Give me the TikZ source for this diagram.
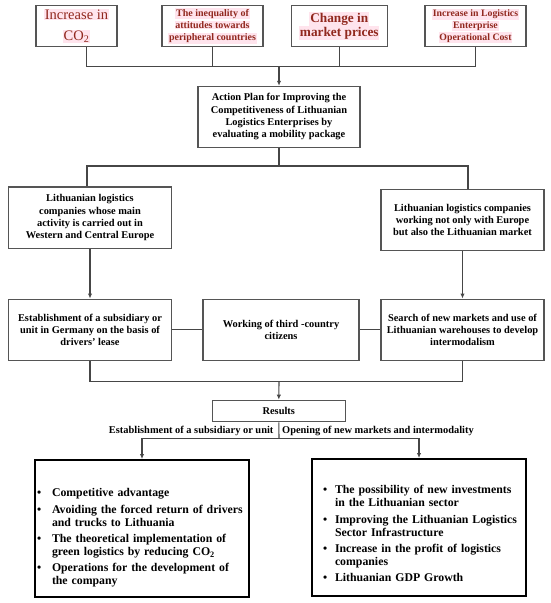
\documentclass[tikz,border=0pt]{standalone}
\usepackage{fontspec}
\setmainfont{Liberation Serif}
\usepackage{enumitem}
\usetikzlibrary{arrows.meta}
\definecolor{causered}{RGB}{145,40,30}
\definecolor{hlpink}{RGB}{255,228,237}
\definecolor{boxline}{RGB}{85,85,85}
\definecolor{wiregray}{RGB}{70,70,70}
\newcommand{\hlt}[1]{{\setlength{\fboxsep}{0.8pt}\colorbox{hlpink}{#1}}}
\setlist[itemize]{label=\textbullet, topsep=0pt, partopsep=0pt, parsep=0pt, itemsep=3.3pt}
\begin{document}
\begin{tikzpicture}[x=1pt, y=-1pt,
  box/.style={draw=boxline, line width=1.1pt, inner sep=0pt, align=center,
    font=\bfseries\fontsize{10.4}{12.3}\selectfont},
  cause/.style={box, text=causered, minimum height=41pt},
  outcome/.style={draw=black, line width=2pt, inner sep=0pt, align=left,
    font=\bfseries\fontsize{11.8}{13}\selectfont, minimum width=214pt, minimum height=137pt},
  wire/.style={draw=wiregray, line width=1.1pt},
  arrow/.style={wire, -{Latex[length=5pt,width=4.5pt]}}]
  \useasboundingbox (0,0) rectangle (550,603);

  \node[cause, minimum width=81pt, font=\fontsize{14.5}{21}\selectfont] (co2) at (76.5,26)
    {\hlt{Increase in}\\\hlt{CO\textsubscript{2}}};
  \node[cause, minimum width=101pt, font=\bfseries\fontsize{10}{12.2}\selectfont] (ineq) at (212.5,26)
    {\hlt{The inequality of}\\\hlt{attitudes towards}\\\hlt{peripheral countries}};
  \node[cause, minimum width=95.5pt, font=\bfseries\fontsize{13.3}{14.3}\selectfont] (price) at (339.3,26)
    {\hlt{Change in}\\\hlt{market prices}};
  \node[cause, minimum width=101pt, font=\bfseries\fontsize{9.8}{11.7}\selectfont] (cost) at (475.5,26)
    {\hlt{Increase in Logistics}\\\hlt{Enterprise}\\\hlt{Operational Cost}};

  \node[box, minimum width=162pt, minimum height=61pt] (plan) at (279,116.8)
    {Action Plan for Improving the\\Competitiveness of Lithuanian\\Logistics Enterprises by\\evaluating a mobility package};

  \node[box, minimum width=163pt, minimum height=61.4pt] (west) at (90,217.7)
    {Lithuanian logistics\\companies whose main\\activity is carried out in\\Western and Central Europe};
  \node[box, minimum width=163pt, minimum height=61.4pt] (east) at (462.5,220)
    {Lithuanian logistics companies\\working not only with Europe\\but also the Lithuanian market};

  \node[box, minimum width=163pt, minimum height=61.5pt] (lease) at (90,329.8)
    {Establishment of a subsidiary or\\unit in Germany on the basis of\\drivers' lease};
  \node[box, minimum width=156pt, minimum height=61.5pt] (third) at (281,329.8)
    {Working of third -country\\citizens};
  \node[box, minimum width=163pt, minimum height=61.5pt] (search) at (462.5,329.8)
    {Search of new markets and use of\\Lithuanian warehouses to develop\\intermodalism};

  \node[box, minimum width=132.5pt, minimum height=21.7pt] (results) at (278.8,411) {Results};
  \node[anchor=east, inner sep=0pt, font=\bfseries\fontsize{10.4}{12.3}\selectfont] (sublabel) at (273.6,430.7)
    {Establishment of a subsidiary or unit};
  \node[anchor=west, inner sep=0pt, font=\bfseries\fontsize{10.4}{12.3}\selectfont] (marklabel) at (282,430.7)
    {Opening of new markets and intermodality};

  \node[outcome, text width=212pt] (gains) at (142,528.5) {\vspace*{14pt}
    \begin{itemize}[leftmargin=16pt, labelsep=10.8pt]
      \item Competitive advantage
      \item Avoiding the forced return of drivers\\and trucks to Lithuania
      \item The theoretical implementation of\\green logistics by reducing CO\textsubscript{2}
      \item Operations for the development of\\the company
    \end{itemize}};
  \node[outcome, text width=210pt] (outlook) at (419,527.5) {\vspace*{8pt}
    \begin{itemize}[leftmargin=21pt, labelsep=7.8pt]
      \item The possibility of new investments\\in the Lithuanian sector
      \item Improving the Lithuanian Logistics\\Sector Infrastructure
      \item Increase in the profit of logistics\\companies
      \item Lithuanian GDP Growth
    \end{itemize}};

  \coordinate (topjoin) at (279,66.3);
  \coordinate (planjoin) at (279,166);
  \coordinate (resjoin) at (279,381.5);
  \coordinate (split) at (279,438.4);

  \draw[wire] ([xshift=10pt]co2.south) |- (topjoin);
  \foreach \n in {ineq,price,cost}
    \draw[wire] (\n.south) |- (topjoin);
  \draw[arrow] (topjoin) -- (plan.north);
  \draw[wire] (plan.south) -- (planjoin);
  \draw[wire] ([xshift=-3pt]west.north) |- (planjoin);
  \draw[wire] ([xshift=5.5pt]east.north) |- (planjoin);
  \draw[arrow] (west.south) -- (lease.north);
  \draw[arrow] (east.south) -- (search.north);
  \draw[wire] (lease.east) -- (third.west);
  \draw[wire] (third.east) -- (search.west);
  \draw[wire] (lease.south) |- (resjoin);
  \draw[wire] (search.south) |- (resjoin);
  \draw[arrow] (resjoin) -- (results.north);
  \draw[wire] (results.south) -- (split);
  \draw[arrow] (split) -| (gains.north);
  \draw[arrow] (split) -| (outlook.north);
\end{tikzpicture}
\end{document}
